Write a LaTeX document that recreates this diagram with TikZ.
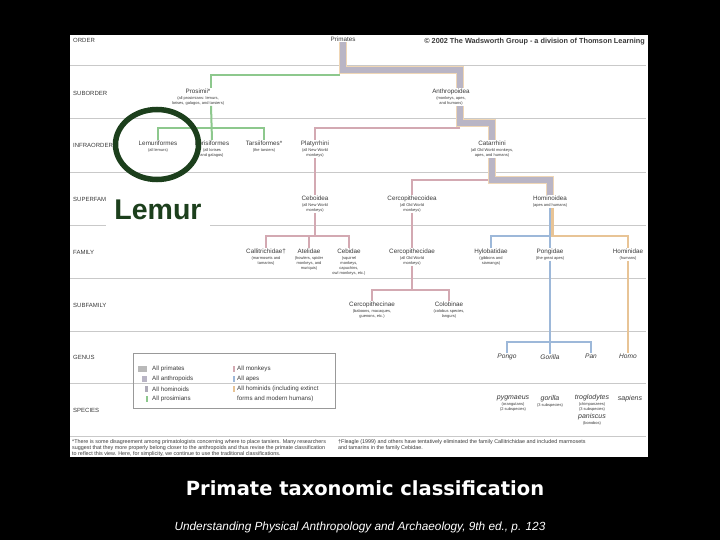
\documentclass[tikz,border=0pt]{standalone}
\usepackage{fontspec}
\setmainfont{Liberation Sans}
\newfontfamily\titlefont{DejaVu Sans}
\usetikzlibrary{calc}
\definecolor{gryband}{HTML}{B9B5C5}
\definecolor{pinkm}{HTML}{D3A9B2}
\definecolor{bluea}{HTML}{9DB8D9}
\definecolor{orangeh}{HTML}{E8C496}
\definecolor{greenp}{HTML}{8DC88D}
\definecolor{rowline}{HTML}{C9C9C9}
\definecolor{lemgreen}{HTML}{1C3F1C}
\definecolor{txt}{HTML}{3A3A3A}
\newcommand\dsc[1]{{\upshape\fontsize{4}{5}\selectfont #1}}
\begin{document}
\begin{tikzpicture}[x=1pt,y=-1pt,
 taxon/.style={anchor=north,align=center,inner sep=0.5pt,text=txt,font=\fontsize{6.3}{5}\selectfont},
 genus/.style={anchor=north,inner sep=0.5pt,text=txt,font=\fontsize{6.6}{5}\selectfont\itshape},
 species/.style={anchor=north,align=center,inner sep=0.5pt,text=txt,font=\fontsize{7}{5}\selectfont\itshape},
 rowlab/.style={anchor=west,inner sep=0pt,text=txt,font=\fontsize{6}{7}\selectfont},
 sepline/.style={draw=rowline,line width=0.8pt},
 band/.style={draw=gryband,line width=6.5pt,preaction={draw=orangeh!70,line width=7.4pt}},
 monk/.style={draw=pinkm,line width=2pt},
 apes/.style={draw=bluea,line width=2.8pt},
 homin/.style={draw=orangeh,line width=2.4pt},
 prosim/.style={draw=greenp,line width=2pt},
 legtext/.style={anchor=west,inner sep=0pt,text=txt,font=\fontsize{6.2}{7}\selectfont},
 note/.style={anchor=north west,align=left,inner sep=0pt,text=txt,font=\fontsize{5.4}{4.9}\selectfont}]
\useasboundingbox (0,0) rectangle (720,540);
\fill[black] (0,0) rectangle (720,540);
\fill[white] (70,35) rectangle (648,457);

% row separators
\foreach \yy in {65,118,172,225,278,331,383,436}
  \draw[sepline] (70,\yy) -- (646,\yy);

% level coordinates
\coordinate (y70) at (0,70);
\coordinate (y75) at (0,75);
\coordinate (y123) at (0,123);
\coordinate (y128) at (0,128);
\coordinate (y180) at (0,180);
\coordinate (y236) at (0,236);
\coordinate (y290) at (0,290);
\coordinate (y342) at (0,342);
\coordinate (prosX) at (211,0);
\coordinate (anthX) at (460,0);

% row labels
\node[rowlab] (rOrder) at (73,40) {ORDER};
\node[rowlab] (rSub) at (73,93) {SUBORDER};
\node[rowlab] (rInfra) at (73,145) {INFRAORDER};
\node[rowlab] (rSuper) at (73,199) {SUPERFAMILY};
\node[rowlab] (rFam) at (73,252) {FAMILY};
\node[rowlab] (rSubfam) at (73,305) {SUBFAMILY};
\node[rowlab] (rGenus) at (73,357) {GENUS};
\node[rowlab] (rSpecies) at (73,410) {SPECIES};

\node[anchor=east,inner sep=0pt,text=txt,font=\bfseries\fontsize{7.3}{8}\selectfont] (copy) at (645,42) {© 2002 The Wadsworth Group - a division of Thomson Learning};

% taxa
\node[taxon] (primates) at (343,36) {Primates};
\node[taxon] (prosimii) at (198,88) {Prosimii*\\[1pt]\dsc{(all prosimians: lemurs,}\\\dsc{lorises, galagos, and tarsiers)}};
\node[taxon] (anthro) at (451,88) {Anthropoidea\\[1pt]\dsc{(monkeys, apes,}\\\dsc{and humans)}};
\node[taxon] (lemuri) at (158,140) {Lemuriformes\\[1pt]\dsc{(all lemurs)}};
\node[taxon] (lorisi) at (212,140) {Lorisiformes\\[1pt]\dsc{(all lorises}\\\dsc{and galagos)}};
\node[taxon] (tarsi) at (264,140) {Tarsiiformes*\\[1pt]\dsc{(the tarsiers)}};
\node[taxon] (platy) at (315,140) {Platyrrhini\\[1pt]\dsc{(all New World}\\\dsc{monkeys)}};
\node[taxon] (catar) at (492,140) {Catarrhini\\[1pt]\dsc{(all Old World monkeys,}\\\dsc{apes, and humans)}};
\node[taxon] (cebo) at (315,195) {Ceboidea\\[1pt]\dsc{(all New World}\\\dsc{monkeys)}};
\node[taxon] (cercoidea) at (412,195) {Cercopithecoidea\\[1pt]\dsc{(all Old World}\\\dsc{monkeys)}};
\node[taxon] (homoidea) at (550,195) {Hominoidea\\[1pt]\dsc{(apes and humans)}};
\node[taxon] (callit) at (266,248) {Callitrichidae†\\[1pt]\dsc{(marmosets and}\\\dsc{tamarins)}};
\node[taxon] (atel) at (309,248) {Atelidae\\[1pt]\dsc{(howlers, spider}\\\dsc{monkeys, and}\\\dsc{muriquis)}};
\node[taxon] (cebid) at (349,248) {Cebidae\\[1pt]\dsc{(squirrel}\\\dsc{monkeys,}\\\dsc{capuchins,}\\\dsc{owl monkeys, etc.)}};
\node[taxon] (cercidae) at (412,248) {Cercopithecidae\\[1pt]\dsc{(all Old World}\\\dsc{monkeys)}};
\node[taxon] (hylo) at (491,248) {Hylobatidae\\[1pt]\dsc{(gibbons and}\\\dsc{siamangs)}};
\node[taxon] (pongid) at (550,248) {Pongidae\\[1pt]\dsc{(the great apes)}};
\node[taxon] (hominid) at (628,248) {Hominidae\\[1pt]\dsc{(humans)}};
\node[taxon] (cercinae) at (372,301) {Cercopithecinae\\[1pt]\dsc{(baboons, macaques,}\\\dsc{guenons, etc.)}};
\node[taxon] (colob) at (449,301) {Colobinae\\[1pt]\dsc{(colobus species,}\\\dsc{langurs)}};
\node[genus] (pongo) at (507,353) {Pongo};
\node[genus] (gorilla) at (550,354) {Gorilla};
\node[genus] (pan) at (591,353) {Pan};
\node[genus] (homo) at (628,353) {Homo};
\node[species] (pyg) at (513,395) {pygmaeus\\[1pt]\dsc{(orangutans)}\\\dsc{(2 subspecies)}};
\node[species] (gor) at (550,395) {gorilla\\[1pt]\dsc{(3 subspecies)}};
\node[species] (trog) at (592,394) {troglodytes\\[1pt]\dsc{(chimpanzees)}\\\dsc{(3 subspecies)}};
\node[species] (panisc) at (592,413) {paniscus\\[1pt]\dsc{(bonobos)}};
\node[species] (sap) at (630,395) {sapiens};

% connectors
\draw[prosim] ([xshift=-3pt]primates.south |- y75) -| (prosX |- prosimii.north);
\draw[band] (primates.south) |- (anthX |- y70) -- (anthX |- anthro.north);
\draw[prosim] (prosX |- prosimii.south) -- (lorisi.north);
\draw[prosim] (lemuri.north) |- (tarsi.north |- y128) -- (tarsi.north);
\draw[monk] (anthX |- y128) -| (platy.north);
\draw[band] (anthX |- anthro.south) |- (catar.north |- y123) -- (catar.north);
\draw[monk] (platy.south) -- (cebo.north);
\draw[monk] (catar.south |- y180) -| (cercoidea.north);
\draw[band] (catar.south) |- (homoidea.north |- y180) -- (homoidea.north);
\draw[monk] (cebo.south) -- (cebo.south |- y236);
\draw[monk] (callit.north) |- (cebid.north |- y236) -- (cebid.north);
\draw[monk] (atel.north) -- (atel.north |- y236);
\draw[monk] (cercoidea.south) -- (cercidae.north);
\draw[homin] ([xshift=2.5pt]homoidea.south) |- (hominid.north |- y236) -- (hominid.north);
\draw[apes] (homoidea.south) -- (pongid.north);
\draw[apes] (homoidea.south |- y236) -| (hylo.north);
\draw[monk] (cercidae.south) -- (cercidae.south |- y290);
\draw[monk] (cercinae.north) |- (colob.north |- y290) -- (colob.north);
\draw[apes] (pongid.south) -- (gorilla.north);
\draw[apes] (pongo.north) |- (pan.north |- y342) -- (pan.north);
\draw[homin] (hominid.south) -- (homo.north);

% legend
\draw[draw=gray!80,line width=0.6pt] (133,353) rectangle (335,408);
\fill[gray!55] (138,366) rectangle (147,372);
\fill[gryband] (142,376) rectangle (147,382);
\fill[gryband!80!gray] (144.5,386) rectangle (147.5,392);
\fill[greenp] (146,396) rectangle (148,402);
\fill[pinkm] (233,366) rectangle (235,372);
\fill[bluea] (233,376) rectangle (235,382);
\fill[orangeh] (233,386) rectangle (235,392);
\node[legtext] (l1) at (152,369) {All primates};
\node[legtext] (l2) at (152,379) {All anthropoids};
\node[legtext] (l3) at (152,389) {All hominoids};
\node[legtext] (l4) at (152,399) {All prosimians};
\node[legtext] (l5) at (237,369) {All monkeys};
\node[legtext] (l6) at (237,379) {All apes};
\node[legtext] (l7) at (237,389) {All hominids (including extinct};
\node[legtext] (l8) at (237,399) {forms and modern humans)};

% footnotes
\node[note] (n1) at (72,439) {*There is some disagreement among primatologists concerning where to place tarsiers. Many researchers\\suggest that they more properly belong closer to the anthropoids and thus revise the primate classification\\to reflect this view. Here, for simplicity, we continue to use the traditional classifications.};
\node[note] (n2) at (338,439) {†Fleagle (1999) and others have tentatively eliminated the family Callitrichidae and included marmosets\\and tamarins in the family Cebidae.};

% lemur highlight
\draw[draw=lemgreen,line width=5.5pt] (157,144.5) ellipse [x radius=41.5, y radius=35];
\node[fill=white,minimum width=104pt,minimum height=48pt,inner sep=0pt,text=lemgreen,font=\bfseries\fontsize{28.5}{30}\selectfont] (lemur) at (158,210) {Lemur};

% captions
\node[text=white,inner sep=0pt,font=\titlefont\fontsize{19.5}{22}\selectfont\bfseries] (title) at (365,488) {Primate taxonomic classification};
\node[text=white,inner sep=0pt,font=\fontsize{11.8}{13}\selectfont\itshape] (cite) at (360,527) {Understanding Physical Anthropology and Archaeology, 9th ed., p. 123};
\end{tikzpicture}
\end{document}
